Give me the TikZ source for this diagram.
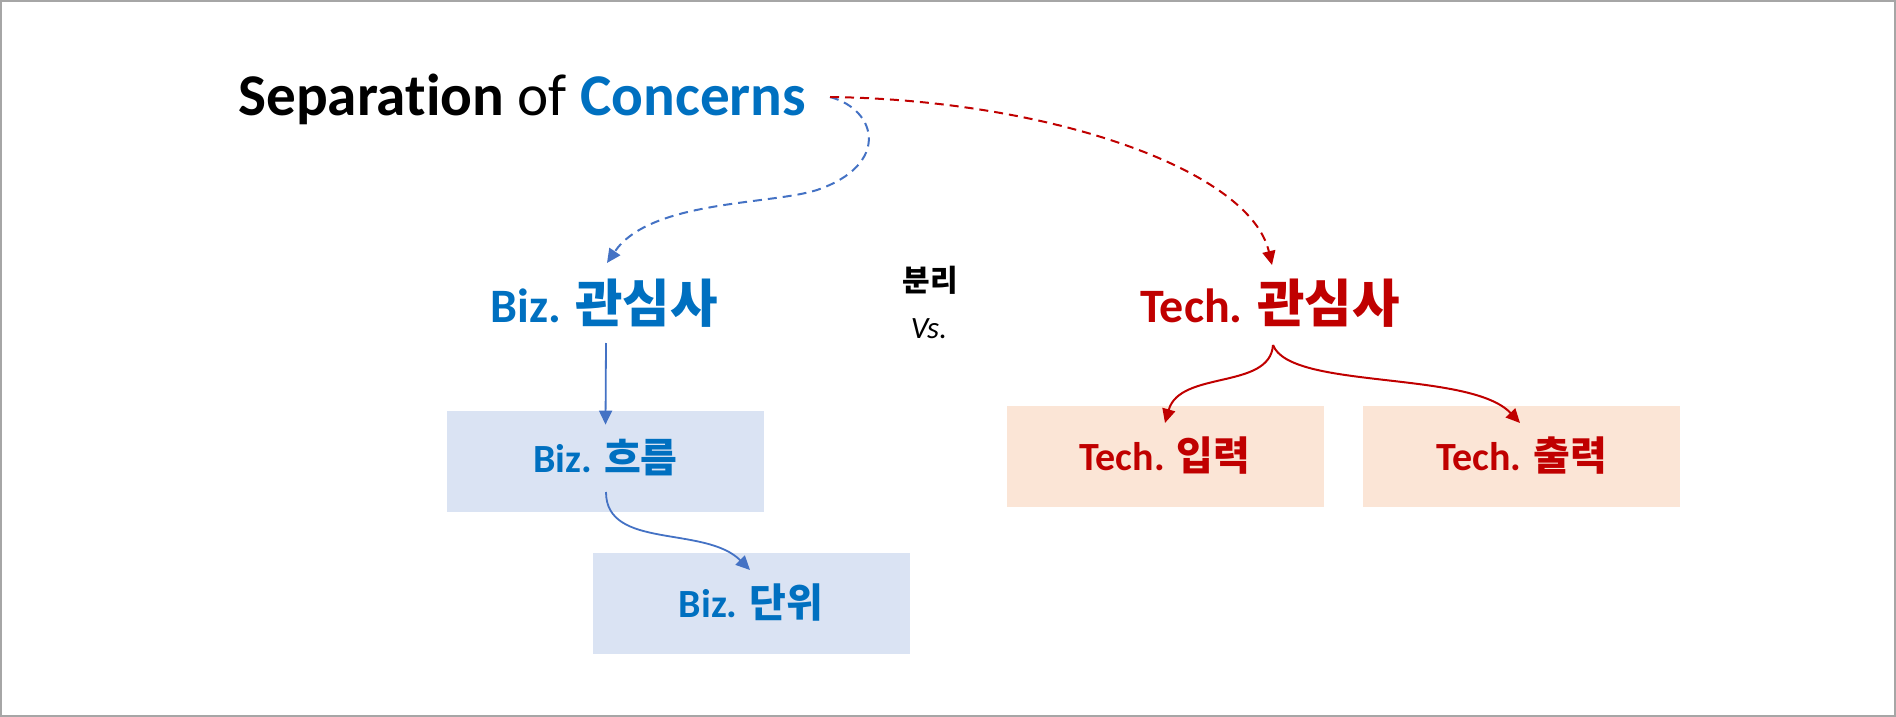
\documentclass[tikz,border=0pt]{standalone}
\usepackage{fontspec}
\setmainfont{Carlito}[Ligatures=NoCommon]
\newfontfamily\korfont{Noto Sans CJK KR}
\usetikzlibrary{arrows.meta}
\definecolor{tblue}{HTML}{0070C0}
\definecolor{tred}{HTML}{C00000}
\definecolor{ablue}{HTML}{4472C4}
\definecolor{fillblue}{HTML}{DAE3F3}
\definecolor{fillred}{HTML}{FBE5D6}
\definecolor{framegray}{HTML}{A6A6A6}
\newcommand{\kor}[1]{{\korfont\bfseries #1}}
\newcommand{\korbig}[1]{{\fontsize{25.8pt}{28pt}\selectfont\korfont\bfseries #1}}
\tikzset{
  tip/.style={-{Triangle[length=7pt,width=6.5pt]}},
  dashlink/.style={tip, line width=1pt, dash pattern=on 4.5pt off 3pt},
  solidlink/.style={tip, line width=0.9pt},
  bigtext/.style={inner sep=0pt, anchor=base, font=\fontsize{24pt}{28pt}\selectfont\bfseries},
  boxnode/.style={inner sep=0pt, minimum width=158.5pt, minimum height=50.5pt,
    text height=16pt, text depth=2pt, font=\fontsize{20pt}{24pt}\selectfont\bfseries},
  bluebox/.style={boxnode, fill=fillblue, text=tblue},
  redbox/.style={boxnode, fill=fillred, text=tred},
}
\begin{document}
\begin{tikzpicture}[x=0.5pt,y=-0.5pt]
\useasboundingbox (0,0) rectangle (1896,717);
\draw[framegray, line width=1pt] (1,1) rectangle (1895,716);

% title
\node[inner sep=0pt, anchor=base west, font=\fontsize{29.6pt}{34pt}\selectfont] (title) at (238,116)
  {\textbf{Separation} of \textbf{\color{tblue}Concerns}};

% level 1
\node[bigtext, text=tblue] (bizc) at (604,322) {Biz. \korbig{관심사}};
\node[bigtext, text=tred] (techc) at (1270,322) {Tech. \korbig{관심사}};

% middle
\node[inner sep=0pt, anchor=base, font=\fontsize{15pt}{18pt}\selectfont] (sep) at (930,291) {\kor{분리}};
\node[inner sep=0pt, anchor=base, font=\fontsize{15.5pt}{18pt}\selectfont\itshape] (vs) at (929,338) {Vs.};

% boxes
\node[bluebox, text depth=5.5pt] (flow) at (605.5,461.5) {Biz. \kor{흐름}};
\node[bluebox] (unit) at (751,603) {Biz. \kor{단위}};
\node[redbox, text height=16.5pt, text depth=3pt] (tin) at (1165,456.5) {Tech. \kor{입력}};
\node[redbox, text height=16.5pt, text depth=3pt] (tout) at (1521.5,456.5) {Tech. \kor{출력}};

% connector ends
\coordinate (src) at (830,97);
\coordinate (bizin) at (607,263);
\coordinate (techin) at (1272,265);
\coordinate (bizout) at (606,343);
\coordinate (flowout) at (606,492);
\coordinate (unitin) at (750,570);
\coordinate (fork) at (1273,345);
\coordinate (tinin) at (1165,423);
\coordinate (toutin) at (1520,423);

% dashed connectors
\draw[dashlink, ablue] (src) .. controls (878,110) and (890,165) .. (817,190)
   .. controls (770,205) and (650,200) .. (bizin);
\draw[dashlink, tred] (src) .. controls (1050,100) and (1250,170) .. (techin);

% blue solid
\draw[solidlink, ablue] (bizout) -- ([yshift=-7pt]flow.north);
\draw[solidlink, ablue] (flowout) .. controls (606,550) and (705,525) .. (unitin);

% red fork
\draw[solidlink, tred, line width=1pt] (fork) .. controls (1270,390) and (1180,370) .. (tinin);
\draw[solidlink, tred, line width=1pt] (fork) .. controls (1290,390) and (1470,370) .. (toutin);
\end{tikzpicture}
\end{document}
